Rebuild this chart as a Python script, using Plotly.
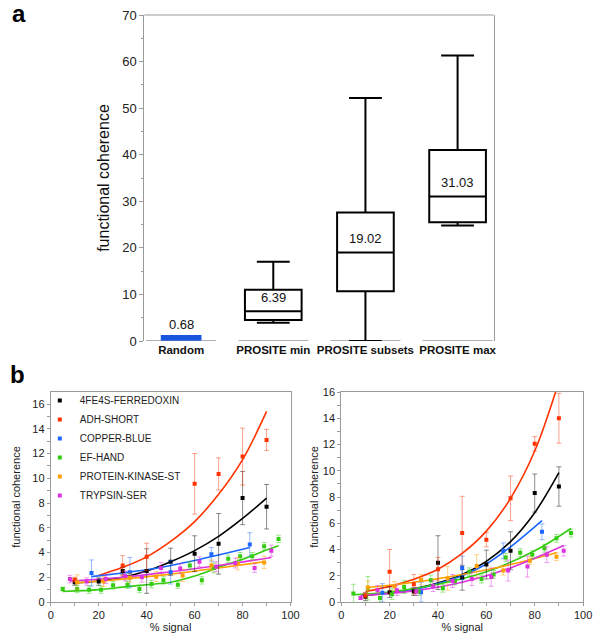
import plotly.graph_objects as go

# ---------------- Panel a: box summary ----------------
categories = ["Random", "PROSITE min", "PROSITE subsets", "PROSITE max"]
box_median = [0.68, 6.39, 19.02, 31.03]
box_q1 = [0.3, 4.5, 10.7, 25.5]
box_q3 = [1.05, 11.0, 27.6, 41.0]
box_low = [0.25, 3.9, 0.0, 24.8]
box_high = [1.1, 17.0, 52.2, 61.3]
y_ticks_a = [0, 10, 20, 30, 40, 50, 60, 70]

# ---------------- Panel b (left) ----------------
series_names = ["4FE4S-FERREDOXIN", "ADH-SHORT", "COPPER-BLUE", "EF-HAND",
                "PROTEIN-KINASE-ST", "TRYPSIN-SER"]
series_colors = ["#000000", "#ff3300", "#1a66ff", "#33cc11", "#ffa000", "#dd33dd"]
err_colors = ["rgba(0,0,0,0.45)", "rgba(255,51,0,0.45)", "rgba(26,102,255,0.45)",
              "rgba(51,204,17,0.45)", "rgba(255,160,0,0.45)", "rgba(221,51,221,0.45)"]

L_x = [
    [10, 20, 30, 40, 50, 60, 70, 80, 90],
    [10, 30, 40, 60, 70, 80, 90],
    [17, 33, 50, 67, 83],
    [5, 11, 16, 21, 26, 32, 37, 42, 47, 53, 58, 63, 68, 74, 79, 84, 89, 95],
    [11, 22, 33, 44, 55, 67, 78, 89],
    [8, 15, 23, 31, 38, 46, 54, 62, 69, 77, 85, 92],
]
L_y = [
    [1.6, 1.65, 2.5, 2.5, 3.25, 3.9, 4.7, 8.4, 7.7],
    [1.8, 2.95, 3.65, 9.55, 10.35, 11.75, 13.1],
    [2.35, 2.4, 2.4, 3.85, 4.65],
    [1.05, 1.05, 1.0, 1.0, 1.35, 1.4, 1.05, 1.45, 1.75, 1.4, 2.95, 1.75, 2.75, 3.5, 3.7, 3.7, 4.5, 5.1],
    [1.6, 1.65, 1.95, 2.05, 2.15, 2.95, 3.1, 3.2],
    [1.85, 1.65, 1.85, 2.1, 2.0, 2.75, 2.7, 3.25, 2.85, 3.15, 2.75, 4.15],
]
L_err = [
    [0.25, 0.3, 0.3, 1.8, 1.1, 1.45, 2.45, 2.15, 1.8],
    [0.2, 0.8, 1.1, 2.45, 1.3, 2.3, 0.85],
    [1.05, 1.2, 0.95, 0.55, 0.95],
    [0.15, 0.3, 0.3, 0.3, 0.3, 0.3, 0.3, 0.3, 0.3, 0.3, 0.3, 0.3, 0.4, 0.3, 0.3, 0.3, 0.3, 0.3],
    [0.6, 0.4, 0.35, 0.4, 0.5, 0.45, 0.5, 0.5],
    [0.3, 0.3, 0.35, 0.4, 0.4, 0.45, 0.4, 0.4, 0.4, 0.4, 0.35, 0.45],
]
L_fit_x = [
    [10, 20, 30, 40, 50, 60, 70, 80, 90],
    [20, 30, 40, 50, 60, 70, 80, 90],
    [17, 30, 40, 50, 60, 70, 83],
    [5, 20, 30, 40, 50, 60, 70, 80, 90, 95],
    [11, 30, 50, 70, 89],
    [8, 30, 50, 70, 92],
]
L_fit_y = [
    [1.55, 1.7, 2.0, 2.5, 3.25, 4.15, 5.3, 6.75, 8.4],
    [2.15, 2.8, 3.65, 4.9, 6.5, 8.7, 11.5, 15.4],
    [2.05, 2.35, 2.6, 2.95, 3.35, 3.8, 4.4],
    [0.85, 1.0, 1.2, 1.4, 1.6, 2.1, 2.8, 3.45, 4.2, 4.55],
    [1.55, 1.85, 2.25, 2.75, 3.25],
    [1.7, 2.0, 2.45, 2.95, 3.6],
]

# ---------------- Panel b (right) ----------------
R_x = [
    [10, 20, 30, 40, 50, 60, 70, 80, 90],
    [10, 20, 30, 40, 50, 60, 70, 80, 90],
    [17, 33, 50, 67, 83],
    [5, 11, 16, 21, 26, 32, 37, 42, 47, 53, 58, 63, 68, 74, 79, 84, 89, 95],
    [11, 22, 33, 44, 56, 67, 78, 89],
    [8, 15, 23, 31, 38, 46, 54, 62, 69, 77, 85, 92],
]
R_y = [
    [0.4, 0.75, 0.8, 3.0, 1.85, 2.85, 3.9, 8.3, 8.8],
    [0.5, 2.3, 1.35, 2.5, 5.25, 4.75, 7.9, 12.05, 14.0],
    [0.7, 0.75, 2.6, 3.9, 5.35],
    [0.65, 1.05, 0.3, 0.6, 1.15, 0.8, 1.65, 1.05, 1.6, 2.3, 1.75, 2.1, 3.4, 3.75, 3.6, 4.1, 4.85, 5.25],
    [1.1, 1.2, 1.7, 1.8, 2.75, 2.4, 3.15, 3.45],
    [0.3, 0.9, 0.9, 0.8, 1.2, 1.6, 1.75, 1.9, 2.4, 2.7, 3.6, 3.9],
]
R_err = [
    [0.3, 0.4, 0.3, 2.05, 0.95, 1.1, 1.45, 1.45, 1.5],
    [0.2, 1.7, 0.75, 0.9, 2.8, 0.55, 1.7, 0.55, 1.9],
    [0.7, 0.75, 0.9, 0.6, 0.6],
    [0.7, 0.9, 0.3, 0.4, 0.5, 0.3, 0.4, 0.3, 0.3, 0.3, 0.3, 0.3, 0.3, 0.3, 0.3, 0.3, 0.3, 0.3],
    [0.5, 0.35, 0.4, 0.9, 0.85, 0.35, 0.3, 0.3],
    [0.1, 0.35, 0.4, 0.3, 0.4, 0.5, 0.5, 0.7, 0.8, 0.8, 0.6, 0.4],
]
R_fit_x = [
    [10, 20, 30, 40, 50, 60, 70, 80, 90],
    [10, 20, 30, 40, 50, 60, 70, 80, 90],
    [17, 30, 40, 50, 60, 70, 83],
    [5, 20, 40, 60, 80, 95],
    [11, 30, 50, 70, 89],
    [8, 30, 50, 70, 92],
]
R_fit_y = [
    [0.5, 0.7, 1.0, 1.45, 2.1, 3.1, 4.6, 6.8, 9.85],
    [0.8, 1.19, 1.74, 2.5, 3.7, 5.4, 7.9, 11.5, 16.8],
    [0.6, 0.95, 1.4, 2.0, 2.9, 4.2, 6.2],
    [0.55, 0.75, 1.35, 2.3, 3.9, 5.6],
    [1.1, 1.5, 2.1, 2.85, 3.75],
    [0.5, 0.85, 1.5, 2.6, 4.3],
]

FONT = "Liberation Sans, Arial, Helvetica, sans-serif"
W, H = 600, 644


def px_x(p):
    return p / W


def px_y(p):
    return 1 - p / H


fig = go.Figure()

# Panel a boxes
fig.add_trace(go.Box(
    x=categories[:1], q1=box_q1[:1], median=box_median[:1], q3=box_q3[:1],
    lowerfence=box_low[:1], upperfence=box_high[:1],
    width=0.42, whiskerwidth=1, fillcolor="#1a55e0",
    line=dict(color="#1a55e0", width=2), xaxis="x", yaxis="y",
    showlegend=False, hoverinfo="skip"))
fig.add_trace(go.Box(
    x=categories[1:], q1=box_q1[1:], median=box_median[1:], q3=box_q3[1:],
    lowerfence=box_low[1:], upperfence=box_high[1:],
    width=0.615, whiskerwidth=0.58, fillcolor="rgba(0,0,0,0)",
    line=dict(color="#000000", width=2), xaxis="x", yaxis="y",
    showlegend=False, hoverinfo="skip"))

annotations = []
for c, m in zip(categories, box_median):
    shift = 4 if m < 2 else 4
    annotations.append(dict(x=c, y=m, xref="x", yref="y", text=f"{m:.2f}",
                            showarrow=False, yanchor="bottom", yshift=shift,
                            font=dict(family=FONT, size=13, color="#111")))

shapes = []
for i, c in enumerate(categories):
    shapes.append(dict(type="line", xref="x", yref="y", x0=i - 0.38, x1=i + 0.38,
                       y0=0, y1=0, line=dict(color="#b0b0b0", width=2), layer="below"))
shapes.append(dict(type="line", xref="x domain", yref="y domain", x0=0, x1=1,
                   y0=1, y1=1, line=dict(color="#999999", width=1)))

# Panel b traces
for k in range(6):
    fig.add_trace(go.Scatter(x=L_fit_x[k], y=L_fit_y[k], mode="lines",
                             line=dict(color=series_colors[k], width=1.6, shape="spline", smoothing=1),
                             xaxis="x2", yaxis="y2", showlegend=False, hoverinfo="skip"))
    fig.add_trace(go.Scatter(x=R_fit_x[k], y=R_fit_y[k], mode="lines",
                             line=dict(color=series_colors[k], width=1.6, shape="spline", smoothing=1),
                             xaxis="x3", yaxis="y3", showlegend=False, hoverinfo="skip"))
for k in range(6):
    fig.add_trace(go.Scatter(x=L_x[k], y=L_y[k], mode="markers", name=series_names[k],
                             marker=dict(symbol="square", size=4, color=series_colors[k]),
                             error_y=dict(type="data", array=L_err[k], color=err_colors[k],
                                          thickness=1, width=2.5),
                             xaxis="x2", yaxis="y2", showlegend=True))
    fig.add_trace(go.Scatter(x=R_x[k], y=R_y[k], mode="markers", name=series_names[k],
                             marker=dict(symbol="square", size=4, color=series_colors[k]),
                             error_y=dict(type="data", array=R_err[k], color=err_colors[k],
                                          thickness=1, width=2.5),
                             xaxis="x3", yaxis="y3", showlegend=False))

annotations.append(dict(x=px_x(10), y=px_y(14), xref="paper", yref="paper", text="<b>a</b>",
                        showarrow=False, xanchor="left", yanchor="middle",
                        font=dict(family=FONT, size=24, color="#000")))
annotations.append(dict(x=px_x(8), y=px_y(374), xref="paper", yref="paper", text="<b>b</b>",
                        showarrow=False, xanchor="left", yanchor="middle",
                        font=dict(family=FONT, size=24, color="#000")))

axis_gray = "#9a9a9a"
tickfont_b = dict(family=FONT, size=11, color="#222")

fig.update_layout(
    width=W, height=H, autosize=False,
    margin=dict(l=0, r=0, t=0, b=0),
    paper_bgcolor="white", plot_bgcolor="white",
    boxmode="overlay",
    font=dict(family=FONT, color="#222"),
    xaxis=dict(domain=[px_x(145), px_x(496)], anchor="y", type="category",
               range=[-0.4, 3.39], showline=False, showgrid=False, zeroline=False,
               ticks="", tickmode="array", tickvals=categories, tickangle=0,
               ticktext=[f"<b>{c}</b>" for c in categories],
               tickfont=dict(family=FONT, size=11.5, color="#111")),
    yaxis=dict(domain=[px_y(341), px_y(15)], anchor="x", range=[0, 70],
               tickvals=y_ticks_a, showgrid=False, zeroline=False,
               showline=True, mirror=True, linecolor=axis_gray, linewidth=1,
               ticks="outside", ticklen=4, tickcolor=axis_gray,
               minor=dict(dtick=5, ticks="outside", ticklen=2.5, tickcolor=axis_gray),
               tickfont=dict(family=FONT, size=13, color="#222"),
               title=dict(text="functional coherence", standoff=8,
                          font=dict(family=FONT, size=16, color="#111")),
               automargin=False),
    xaxis2=dict(domain=[px_x(51), px_x(292)], anchor="y2", range=[0, 100],
                dtick=20, showgrid=False, zeroline=False, showline=True, mirror=True,
                linecolor=axis_gray, linewidth=1, ticks="outside", ticklen=3, tickcolor=axis_gray,
                minor=dict(dtick=10, ticks="outside", ticklen=3, tickcolor=axis_gray),
                tickfont=tickfont_b,
                title=dict(text="% signal", standoff=0, font=dict(family=FONT, size=11, color="#222")),
                automargin=False),
    yaxis2=dict(domain=[px_y(602), px_y(392)], anchor="x2", range=[0, 16.97],
                tickvals=[0, 2, 4, 6, 8, 10, 12, 14, 16], showgrid=False, zeroline=False,
                showline=True, mirror=True, linecolor=axis_gray, linewidth=1,
                ticks="outside", ticklen=3, tickcolor=axis_gray,
                minor=dict(dtick=1, ticks="outside", ticklen=3, tickcolor=axis_gray),
                tickfont=tickfont_b,
                title=dict(text="functional coherence", standoff=9,
                           font=dict(family=FONT, size=11, color="#222")),
                automargin=False),
    xaxis3=dict(domain=[px_x(343), px_x(586)], anchor="y3", range=[0, 100],
                dtick=20, showgrid=False, zeroline=False, showline=True, mirror=True,
                linecolor=axis_gray, linewidth=1, ticks="outside", ticklen=3, tickcolor=axis_gray,
                minor=dict(dtick=10, ticks="outside", ticklen=3, tickcolor=axis_gray),
                tickfont=tickfont_b,
                title=dict(text="% signal", standoff=0, font=dict(family=FONT, size=11, color="#222")),
                automargin=False),
    yaxis3=dict(domain=[px_y(602), px_y(392)], anchor="x3", range=[0, 16],
                tickvals=[0, 2, 4, 6, 8, 10, 12, 14, 16], showgrid=False, zeroline=False,
                showline=True, mirror=True, linecolor=axis_gray, linewidth=1,
                ticks="outside", ticklen=3, tickcolor=axis_gray,
                minor=dict(dtick=1, ticks="outside", ticklen=3, tickcolor=axis_gray),
                tickfont=tickfont_b,
                title=dict(text="functional coherence", standoff=1,
                           font=dict(family=FONT, size=11, color="#222")),
                automargin=False),
    legend=dict(x=px_x(40), y=px_y(386), xanchor="left", yanchor="top",
                bgcolor="rgba(0,0,0,0)", font=dict(family=FONT, size=10, color="#222"),
                itemwidth=30, tracegroupgap=0),
    annotations=annotations,
    shapes=shapes,
)

fig.write_html("out.html", config={"displayModeBar": False},
               post_script="document.body.style.margin='0px';")
